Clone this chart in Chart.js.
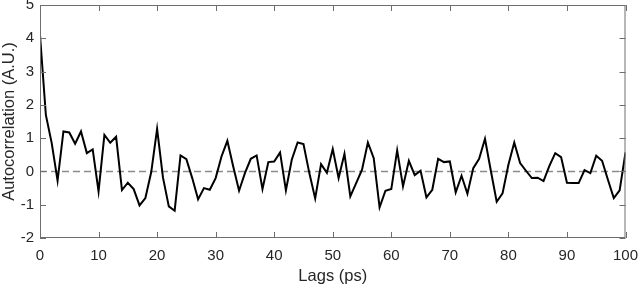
<!DOCTYPE html>
<html>
<head>
<meta charset="utf-8">
<script src="https://cdn.jsdelivr.net/npm/chart.js@4"></script>
<style>
  html, body { margin: 0; padding: 0; background: #fff; }
  #wrap { width: 640px; height: 286px; }
</style>
</head>
<body>
<div id="wrap"><canvas id="acfChart"></canvas></div>
<script>
const lags = [
  0, 1, 2, 3, 4, 5, 6, 7, 8, 9, 10, 11, 12, 13, 14, 15, 16, 17, 18, 19,
  20, 21, 22, 23, 24, 25, 26, 27, 28, 29, 30, 31, 32, 33, 34, 35, 36, 37, 38, 39,
  40, 41, 42, 43, 44, 45, 46, 47, 48, 49, 50, 51, 52, 53, 54, 55, 56, 57, 58, 59,
  60, 61, 62, 63, 64, 65, 66, 67, 68, 69, 70, 71, 72, 73, 74, 75, 76, 77, 78, 79,
  80, 81, 82, 83, 84, 85, 86, 87, 88, 89, 90, 91, 92, 93, 94, 95, 96, 97, 98, 99, 100
];
const autocorr = [
  4.1, 1.7, 0.85, -0.28, 1.2, 1.17, 0.83, 1.2, 0.55, 0.66,
  -0.6, 1.1, 0.86, 1.04, -0.56, -0.34, -0.53, -1.02, -0.8, -0.02,
  1.28, -0.18, -1.05, -1.18, 0.48, 0.37, -0.2, -0.84, -0.5, -0.55,
  -0.2, 0.45, 0.92, 0.15, -0.58, -0.05, 0.38, 0.48, -0.53, 0.28,
  0.3, 0.57, -0.57, 0.35, 0.87, 0.82, -0.05, -0.81, 0.22, -0.04,
  0.67, -0.2, 0.53, -0.75, -0.35, 0.05, 0.87, 0.4, -1.08, -0.58,
  -0.53, 0.63, -0.45, 0.32, -0.11, 0.02, -0.78, -0.55, 0.38, 0.28,
  0.3, -0.63, -0.13, -0.67, 0.1, 0.38, 0.98, 0.02, -0.91, -0.66,
  0.2, 0.87, 0.25, 0.02, -0.2, -0.19, -0.29, 0.17, 0.55, 0.43,
  -0.34, -0.35, -0.35, 0.04, -0.05, 0.47, 0.32, -0.25, -0.8, -0.57,
  0.57
];
const zeroLine = [{ x: 0, y: 0 }, { x: 100, y: 0 }];
const xTicks = [0, 10, 20, 30, 40, 50, 60, 70, 80, 90, 100];
const yTicks = [-2, -1, 0, 1, 2, 3, 4, 5];

const FONT = "'Liberation Sans', Arial, Helvetica, sans-serif";
const TEXT = "#262626";

// box round the plot + inward ticks on all four sides (matlab style)
const boxTicks = {
  id: "boxTicks",
  afterDraw(chart) {
    const { ctx, chartArea: a, scales } = chart;
    const len = 6;
    ctx.save();
    ctx.strokeStyle = "#6e6e6e";
    ctx.lineWidth = 1;
    ctx.strokeRect(a.left + 0.5, a.top + 0.5, a.right - a.left - 1, a.bottom - a.top - 1);
    ctx.beginPath();
    for (const v of xTicks) {
      const px = Math.round(scales.x.getPixelForValue(v)) + 0.5;
      ctx.moveTo(px, a.bottom); ctx.lineTo(px, a.bottom - len);
      ctx.moveTo(px, a.top); ctx.lineTo(px, a.top + len);
    }
    for (const v of yTicks) {
      const py = Math.round(scales.y.getPixelForValue(v)) + 0.5;
      ctx.moveTo(a.left, py); ctx.lineTo(a.left + len, py);
      ctx.moveTo(a.right, py); ctx.lineTo(a.right - len, py);
    }
    ctx.stroke();
    ctx.restore();
  }
};

new Chart(document.getElementById("acfChart"), {
  type: "line",
  data: {
    datasets: [
      {
        label: "Autocorrelation",
        data: lags.map((l, i) => ({ x: l, y: autocorr[i] })),
        borderColor: "#000",
        borderWidth: 2,
        pointRadius: 0,
        tension: 0,
        order: 1
      },
      {
        label: "zero",
        data: zeroLine,
        borderColor: "#8c8c8c",
        borderWidth: 1.5,
        borderDash: [7, 4],
        pointRadius: 0,
        order: 2
      }
    ]
  },
  options: {
    responsive: true,
    maintainAspectRatio: false,
    animation: false,
    events: [],
    layout: { padding: 0 },
    plugins: {
      legend: { display: false },
      tooltip: { enabled: false }
    },
    scales: {
      x: {
        type: "linear",
        min: 0,
        max: 100,
        afterBuildTicks: (s) => { s.ticks = xTicks.map(v => ({ value: v })); },
        afterFit: (s) => { s.height = 48; s.paddingLeft = 0; s.paddingRight = 14.5; },
        grid: { display: false, drawTicks: false },
        border: { display: false },
        ticks: { color: TEXT, font: { family: FONT, size: 15 }, padding: 9, maxRotation: 0 },
        title: {
          display: true,
          text: "Lags (ps)",
          color: TEXT,
          font: { family: FONT, size: 16.5 },
          padding: { top: 0, bottom: 0 }
        }
      },
      y: {
        min: -2,
        max: 5,
        afterBuildTicks: (s) => { s.ticks = yTicks.map(v => ({ value: v })); },
        afterFit: (s) => { s.width = 40; s.paddingTop = 5; s.paddingBottom = 0; },
        grid: { display: false, drawTicks: false },
        border: { display: false },
        ticks: { color: TEXT, font: { family: FONT, size: 15 }, padding: 6 },
        title: {
          display: true,
          text: "Autocorrelation (A.U.)",
          color: TEXT,
          font: { family: FONT, size: 16.5 },
          padding: { top: 0, bottom: 0 }
        }
      }
    }
  },
  plugins: [boxTicks]
});
</script>
</body>
</html>
